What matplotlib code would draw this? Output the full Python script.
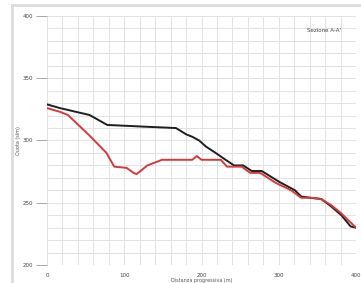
import matplotlib
matplotlib.use("Agg")
import matplotlib.pyplot as plt
from matplotlib.lines import Line2D
from matplotlib.ticker import MultipleLocator

# Profile data (distance m, elevation m)
black_x = [0, 17, 55, 78, 130, 167, 180, 188, 197, 206, 216, 230, 242, 254, 265, 278, 300, 321, 329, 341, 355, 368, 381, 393, 400]
black_y = [329, 326, 320.5, 312.5, 311, 310, 305, 303, 300, 295, 291, 285, 280, 280, 275.5, 275.5, 267, 260, 255, 254, 253, 247, 240, 231, 230]

red_x = [0, 17, 27, 55, 77, 87, 103, 112, 116, 122, 130, 149, 188, 194, 200, 225, 233, 252, 263, 276, 296, 316, 329, 342, 355, 368, 380, 390, 400]
red_y = [326, 323, 320.5, 304, 290, 279, 278, 274, 273, 276, 280, 284.5, 284.5, 287.5, 284.5, 284.5, 279, 279, 274, 274, 266, 260, 254, 254, 253, 248, 242, 236, 230]

x_ticks = [0, 100, 200, 300, 400]
y_ticks = [200, 250, 300, 350, 400]
title_text = "Sezione A-A'"
x_label = "Distanza progressiva (m)"
y_label = "Quota (slm)"

fig = plt.figure(figsize=(3.61, 2.83), dpi=100)
# outer frame lines
fig.add_artist(Line2D([12/361, 1], [1-5/283, 1-5/283], color="#dcdcdc", lw=2, transform=fig.transFigure))
fig.add_artist(Line2D([12/361, 12/361], [0, 1-5/283], color="#dcdcdc", lw=2, transform=fig.transFigure))

ax = fig.add_axes([47/361, 1-265/283, (356-47)/361, (265-16)/283])
ax.set_xlim(0, 400)
ax.set_ylim(200, 400)
ax.set_xticks(x_ticks)
ax.set_yticks(y_ticks)
ax.xaxis.set_minor_locator(MultipleLocator(20))
ax.yaxis.set_minor_locator(MultipleLocator(10))
ax.grid(which="both", color="#e2e2e2", lw=0.7)
ax.set_axisbelow(True)
for s in ax.spines.values():
    s.set_visible(False)
ax.tick_params(which="major", labelsize=4, colors="#999999", labelcolor="#444444", length=8, width=0.6, pad=2)
ax.tick_params(which="minor", length=0)
ax.tick_params(axis="x", length=0, pad=6)

ax.plot(black_x, black_y, color="#1e1e1e", lw=1.4)
ax.plot(red_x, red_y, color="#d43a3a", lw=1.4)

ax.text(0.95, 0.94, title_text, transform=ax.transAxes, fontsize=4, ha="right", va="center", color="#444444")
ax.set_xlabel(x_label, fontsize=3.5, color="#555555")
ax.xaxis.set_label_coords(0.5, -0.052)
ax.set_ylabel(y_label, fontsize=3.5, color="#555555")
ax.yaxis.set_label_coords(-0.085, 0.5)

fig.savefig("out.png", dpi=100)
